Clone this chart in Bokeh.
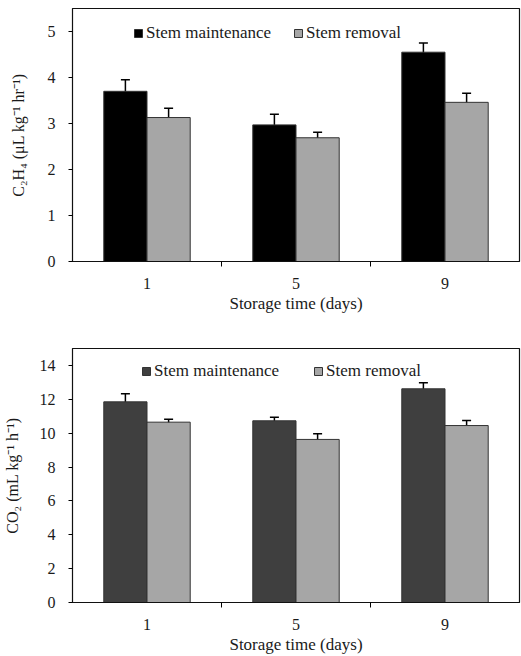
from bokeh.plotting import figure
from bokeh.models import (ColumnDataSource, Range1d, FixedTicker, Whisker, TeeHead,
                          Legend, LegendItem)
from bokeh.layouts import column
from bokeh.transform import dodge
from bokeh.embed import file_html
from bokeh.resources import INLINE

# ---- data ----
days = ["1", "5", "9"]
series_names = ["Stem maintenance", "Stem removal"]

c2h4_maint = [3.70, 2.97, 4.55]
c2h4_maint_err = [0.25, 0.23, 0.20]
c2h4_remov = [3.13, 2.69, 3.46]
c2h4_remov_err = [0.20, 0.12, 0.20]

co2_maint = [11.85, 10.73, 12.62]
co2_maint_err = [0.48, 0.21, 0.36]
co2_remov = [10.65, 9.63, 10.45]
co2_remov_err = [0.17, 0.33, 0.30]

c2h4_ticks = [0, 1, 2, 3, 4, 5]
co2_ticks = [0, 2, 4, 6, 8, 10, 12, 14]

FONT = "Liberation Serif"
TXT = "#1a1a1a"


def make_panel(maint, maint_err, remov, remov_err, ytop, yticks, ylabel,
               col_maint, height, border_top, border_bottom, legend_loc,
               legend_spacing, ylabel_standoff):
    x = list(range(len(days)))
    src = ColumnDataSource(dict(
        x=x, maint=maint, remov=remov,
        m_lo=[v - e for v, e in zip(maint, maint_err)],
        m_hi=[v + e for v, e in zip(maint, maint_err)],
        r_lo=[v - e for v, e in zip(remov, remov_err)],
        r_hi=[v + e for v, e in zip(remov, remov_err)],
    ))
    p = figure(width=521, height=height, output_backend="svg", toolbar_location=None,
               x_range=Range1d(-0.5, len(days) - 0.5), y_range=Range1d(0, ytop),
               min_border_left=71, min_border_right=2, min_border_top=border_top,
               min_border_bottom=border_bottom)
    p.grid.visible = False
    p.outline_line_color = "#111111"
    p.outline_line_width = 1.2

    bw = 0.29
    r1 = p.vbar(x=dodge("x", -bw / 2), top="maint", width=bw, source=src,
                fill_color=col_maint, line_color="#333333", line_width=1)
    r2 = p.vbar(x=dodge("x", bw / 2), top="remov", width=bw, source=src,
                fill_color="#a6a6a6", line_color="#333333", line_width=1)

    for xs, lo, hi in ((dodge("x", -bw / 2), "m_lo", "m_hi"), (dodge("x", bw / 2), "r_lo", "r_hi")):
        w = Whisker(base=xs, lower=lo, upper=hi, source=src,
                    line_color="black", line_width=1.5,
                    upper_head=TeeHead(size=9, line_color="black", line_width=1.5),
                    lower_head=TeeHead(size=9, line_color="black", line_width=1.5))
        p.add_layout(w)

    leg = Legend(items=[LegendItem(label=series_names[0], renderers=[r1]),
                        LegendItem(label=series_names[1], renderers=[r2])],
                 orientation="horizontal", location=legend_loc,
                 border_line_color=None, background_fill_alpha=0,
                 padding=0, margin=0, spacing=legend_spacing,
                 glyph_width=10, glyph_height=10, label_height=14,
                 label_standoff=3,
                 label_text_font=FONT, label_text_font_size="17px",
                 label_text_color=TXT)
    p.add_layout(leg)

    # x axis
    xa = p.xaxis[0]
    xa.ticker = FixedTicker(ticks=x, minor_ticks=[i + 0.5 for i in x[:-1]])
    xa.major_label_overrides = {i: d for i, d in zip(x, days)}
    xa.major_tick_out = 0
    xa.major_tick_in = 0
    xa.minor_tick_out = 5
    xa.minor_tick_in = 0
    xa.major_label_standoff = 11
    xa.axis_label = "Storage time (days)"
    xa.axis_label_standoff = 2
    xa.axis_label_text_font = FONT
    xa.axis_label_text_font_size = "17px"
    xa.axis_label_text_font_style = "normal"
    xa.axis_label_text_color = TXT
    xa.major_label_text_font = FONT
    xa.major_label_text_font_size = "16px"
    xa.major_label_text_color = TXT
    xa.axis_line_color = "#111111"

    ya = p.yaxis[0]
    ya.ticker = FixedTicker(ticks=yticks)
    ya.minor_tick_line_color = None
    ya.major_tick_out = 4
    ya.major_tick_in = 0
    ya.major_label_standoff = 13
    ya.axis_label = ylabel
    ya.axis_label_standoff = ylabel_standoff
    ya.axis_label_text_font = FONT
    ya.axis_label_text_font_size = "16px"
    ya.axis_label_text_font_style = "normal"
    ya.axis_label_text_color = TXT
    ya.major_label_text_font = FONT
    ya.major_label_text_font_size = "16px"
    ya.major_label_text_color = TXT
    ya.axis_line_color = "#111111"
    return p


p1 = make_panel(c2h4_maint, c2h4_maint_err, c2h4_remov, c2h4_remov_err, 5.5, c2h4_ticks,
                "C\u2082H\u2084 (\u03bcL kg\u207b\u00b9 hr\u207b\u00b9)", "#000000",
                height=316, border_top=8, border_bottom=55, legend_loc=(61, 218),
                legend_spacing=22, ylabel_standoff=18)
p2 = make_panel(co2_maint, co2_maint_err, co2_remov, co2_remov_err, 15, co2_ticks,
                "CO\u2082 (mL kg\u207b\u00b9 h\u207b\u00b9)", "#3f3f3f",
                height=340, border_top=32, border_bottom=54, legend_loc=(69, 221),
                legend_spacing=34, ylabel_standoff=16)

layout = column(p1, p2, spacing=0)
open("out.html", "w").write(file_html(layout, INLINE))
